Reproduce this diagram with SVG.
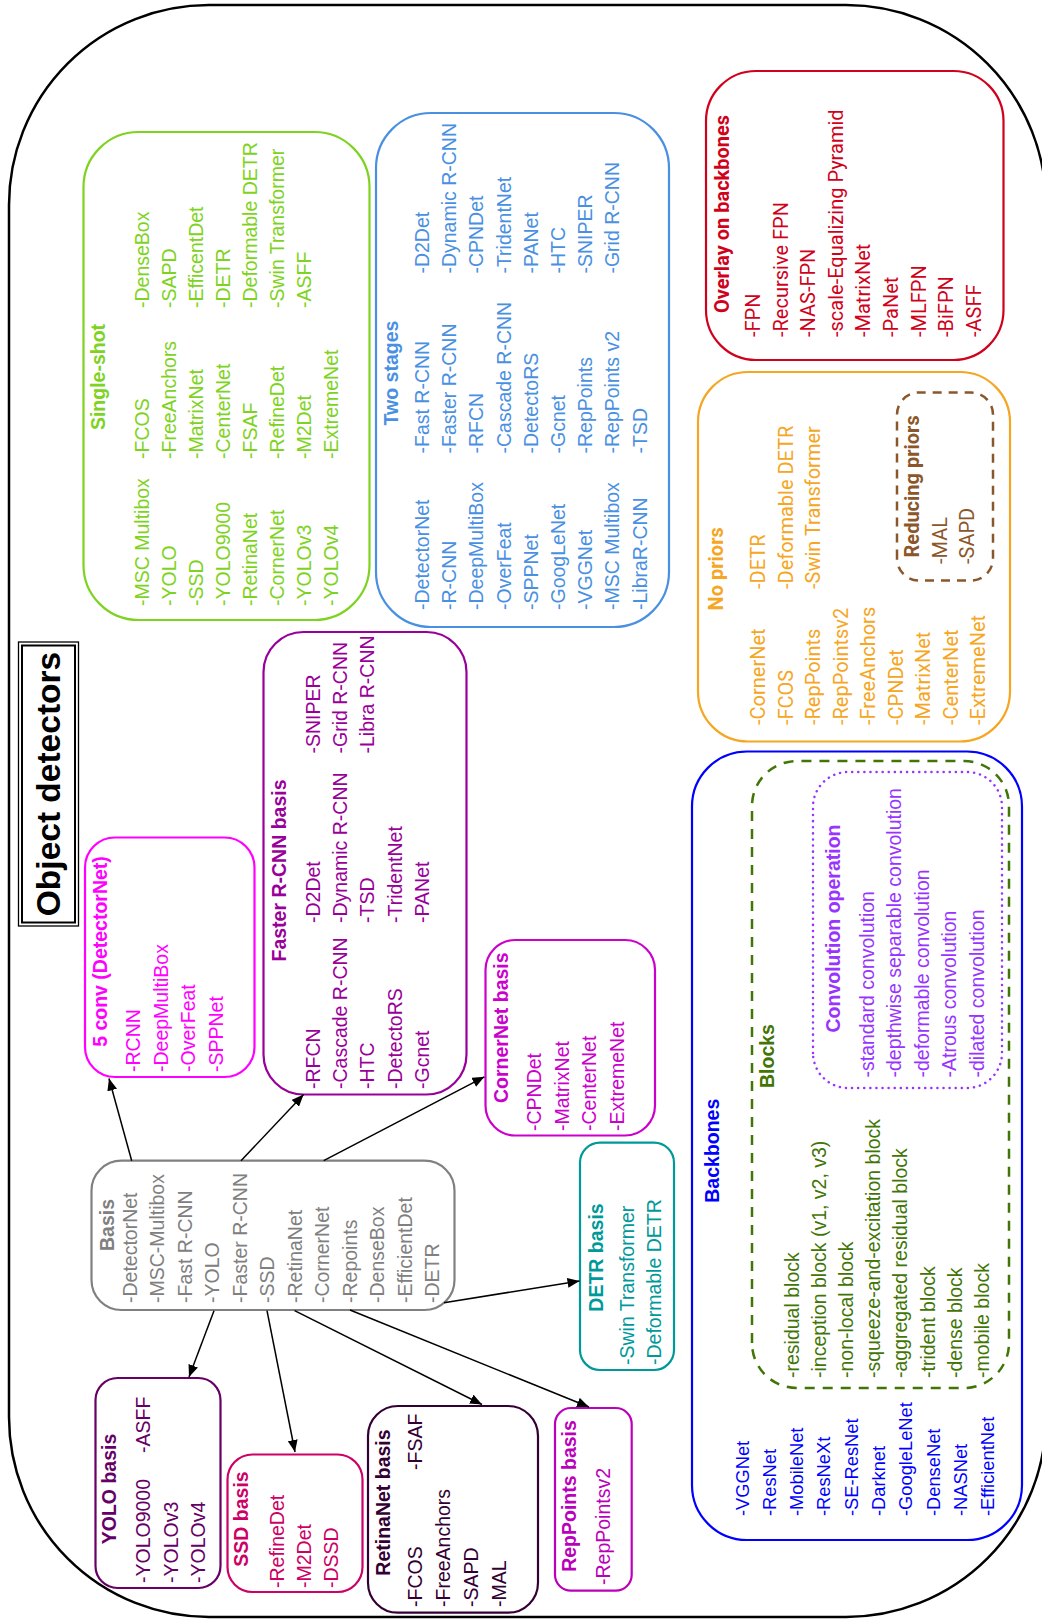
<svg xmlns="http://www.w3.org/2000/svg" width="1042" height="1619" viewBox="0 0 1042 1619">
<defs>
<style>
text{font-family:"Liberation Sans",Arial,sans-serif;font-size:19.5px}
.b{font-weight:bold}
.m{text-anchor:middle}
.rb{font-family:Roboto,"Liberation Sans",sans-serif;font-size:20px}
.bx{fill:#fff;stroke-width:2.2}
.green{fill:#7ED321}.blue{fill:#4A90E2}.red{fill:#D0021B}.orange{fill:#F5A623}.brown{fill:#8B572A}
.bb{fill:#0000FF}.dg{fill:#417505}.vi{fill:#9933FF}
.mag{fill:#FF00FF}.fr{fill:#990099}.cn{fill:#CC00CC}.te{fill:#009999}.gr{fill:#808080}
.yo{fill:#660066}.ss{fill:#CC0066}.rn{fill:#330033}.rp{fill:#BB00BB}
.con{stroke:#000;stroke-width:1.5;fill:none;marker-end:url(#ah)}
</style>
<marker id="ah" viewBox="0 0 12 10" refX="12" refY="5" markerWidth="12" markerHeight="10" markerUnits="userSpaceOnUse" orient="auto"><path d="M0,0 L12,5 L0,10 z" fill="#000"/></marker>
</defs>
<rect width="1042" height="1619" fill="#fff"/>
<rect id="outer" x="9" y="5" width="1037" height="1612" rx="200" fill="none" stroke="#000" stroke-width="2.5"/>

<g id="title" transform="translate(18.5,926) rotate(-90)">
<rect x="0" y="0" width="284" height="60" fill="#fff" stroke="#000" stroke-width="1.3"/>
<rect x="3.5" y="3.5" width="277" height="53" fill="none" stroke="#000" stroke-width="2"/>
<text class="b m" x="142" y="41.5" style="font-size:33.5px">Object detectors</text>
</g>

<g id="single-shot" transform="translate(83.5,620) rotate(-90)">
<rect class="bx" x="0" y="0" width="488" height="286" rx="55" stroke="#7ED321"/>
<g class="green">
<text class="b m" x="243" y="21.5">Single-shot</text>
<text x="14" y="65">-MSC Multibox</text><text x="14" y="92">-YOLO</text><text x="14" y="119">-SSD</text><text x="14" y="146">-YOLO9000</text><text x="14" y="173">-RetinaNet</text><text x="14" y="200">-CornerNet</text><text x="14" y="227">-YOLOv3</text><text x="14" y="254">-YOLOv4</text>
<text x="161" y="65">-FCOS</text><text x="161" y="92">-FreeAnchors</text><text x="161" y="119">-MatrixNet</text><text x="161" y="146">-CenterNet</text><text x="161" y="173">-FSAF</text><text x="161" y="200">-RefineDet</text><text x="161" y="227">-M2Det</text><text x="161" y="254">-ExtremeNet</text>
<text x="312" y="65">-DenseBox</text><text x="312" y="92">-SAPD</text><text x="312" y="119">-EfficentDet</text><text x="312" y="146">-DETR</text><text x="312" y="173">-Deformable DETR</text><text x="312" y="200">-Swin Transformer</text><text x="312" y="227">-ASFF</text>
</g>
</g>

<g id="two-stages" transform="translate(376,627) rotate(-90)">
<rect class="bx" x="0" y="0" width="514" height="293" rx="55" stroke="#4A90E2"/>
<g class="blue">
<text class="b m" x="254" y="21.7">Two stages</text>
<text x="17" y="53">-DetectorNet</text><text x="17" y="80.2">-R-CNN</text><text x="17" y="107.4">-DeepMultiBox</text><text x="17" y="134.6">-OverFeat</text><text x="17" y="161.8">-SPPNet</text><text x="17" y="189">-GoogLeNet</text><text x="17" y="216.2">-VGGNet</text><text x="17" y="243.4">-MSC Multibox</text><text x="17" y="270.6">-LibraR-CNN</text>
<text x="173.5" y="53">-Fast R-CNN</text><text x="173.5" y="80.2">-Faster R-CNN</text><text x="173.5" y="107.4">-RFCN</text><text x="173.5" y="134.6">-Cascade R-CNN</text><text x="173.5" y="161.8">-DetectoRS</text><text x="173.5" y="189">-Gcnet</text><text x="173.5" y="216.2">-RepPoints</text><text x="173.5" y="243.4">-RepPoints v2</text><text x="173.5" y="270.6">-TSD</text>
<text x="353.4" y="53">-D2Det</text><text x="353.4" y="80.2">-Dynamic R-CNN</text><text x="353.4" y="107.4">-CPNDet</text><text x="353.4" y="134.6">-TridentNet</text><text x="353.4" y="161.8">-PANet</text><text x="353.4" y="189">-HTC</text><text x="353.4" y="216.2">-SNIPER</text><text x="353.4" y="243.4">-Grid R-CNN</text>
</g>
</g>

<g id="overlay" transform="translate(706,360) rotate(-90)">
<rect class="bx" x="0" y="0" width="289" height="297.5" rx="50" stroke="#D0021B"/>
<g class="red rb">
<text class="b m rb" x="146" y="22.7">Overlay on backbones</text>
<text class="rb" x="23" y="54">-FPN</text><text class="rb" x="23" y="81.6">-Recursive FPN</text><text class="rb" x="23" y="109.2">-NAS-FPN</text><text class="rb" x="23" y="136.8">-scale-Equalizing Pyramid</text><text class="rb" x="23" y="164.4">-MatrixNet</text><text class="rb" x="23" y="192">-PaNet</text><text class="rb" x="23" y="219.6">-MLFPN</text><text class="rb" x="23" y="247.2">-BiFPN</text><text class="rb" x="23" y="274.8">-ASFF</text>
</g>
</g>

<g id="no-priors" transform="translate(698,741.5) rotate(-90)">
<rect class="bx" x="0" y="0" width="369.5" height="312" rx="50" stroke="#F5A623"/>
<g class="orange">
<text class="b m rb" x="172.7" y="25">No priors</text>
<text class="rb" x="16.5" y="67">-CornerNet</text><text class="rb" x="16.5" y="94.5">-FCOS</text><text class="rb" x="16.5" y="122">-RepPoints</text><text class="rb" x="16.5" y="149.5">-RepPointsv2</text><text class="rb" x="16.5" y="177">-FreeAnchors</text><text class="rb" x="16.5" y="204.5">-CPNDet</text><text class="rb" x="16.5" y="232">-MatrixNet</text><text class="rb" x="16.5" y="259.5">-CenterNet</text><text class="rb" x="16.5" y="287">-ExtremeNet</text>
<text class="rb" x="152.5" y="67">-DETR</text><text class="rb" x="152.5" y="94.5">-Deformable DETR</text><text class="rb" x="152.5" y="122">-Swin Transformer</text>
</g>
<g id="reducing-priors">
<rect x="161" y="199" width="188" height="96" rx="22" fill="none" stroke="#8B572A" stroke-width="2.5" stroke-dasharray="9 7"/>
<g class="brown">
<text class="b m rb" x="255.1" y="220.7">Reducing priors</text>
<text class="rb" x="177.5" y="249">-MAL</text><text class="rb" x="177.5" y="276">-SAPD</text>
</g>
</g>
</g>

<g id="backbones" transform="translate(692,1540) rotate(-90)">
<rect class="bx" x="0" y="0" width="788.5" height="330" rx="55" stroke="#0000FF"/>
<g class="bb">
<text class="b m" x="389.3" y="26.7">Backbones</text>
<g style="font-size:18.3px">
<text x="24" y="56.5" style="font-size:18.3px">-VGGNet</text><text x="24" y="83.8" style="font-size:18.3px">-ResNet</text><text x="24" y="111.1" style="font-size:18.3px">-MobileNet</text><text x="24" y="138.4" style="font-size:18.3px">-ResNeXt</text><text x="24" y="165.7" style="font-size:18.3px">-SE-ResNet</text><text x="24" y="193" style="font-size:18.3px">-Darknet</text><text x="24" y="220.3" style="font-size:18.3px">-GoogleLeNet</text><text x="24" y="247.6" style="font-size:18.3px">-DenseNet</text><text x="24" y="274.9" style="font-size:18.3px">-NASNet</text><text x="24" y="302.2" style="font-size:18.3px">-EfficientNet</text>
</g>
</g>
<g id="blocks">
<rect x="152" y="60" width="627" height="257" rx="45" fill="none" stroke="#417505" stroke-width="2.5" stroke-dasharray="10 8"/>
<g class="dg">
<text class="b m" x="484" y="82">Blocks</text>
<text x="162" y="106.5">-residual block</text><text x="162" y="133.7">-inception block (v1, v2, v3)</text><text x="162" y="160.9">-non-local block</text><text x="162" y="188.1">-squeeze-and-excitation block</text><text x="162" y="215.3">-aggregated residual block</text><text x="162" y="242.5">-trident block</text><text x="162" y="269.7">-dense block</text><text x="162" y="296.9">-mobile block</text>
</g>
</g>
<g id="convolution">
<rect x="452" y="121" width="316" height="189" rx="35" fill="none" stroke="#9933FF" stroke-width="2.5" stroke-dasharray="0.1 6" stroke-linecap="round"/>
<g class="vi">
<text class="b m" x="611.5" y="148">Convolution operation</text>
<text x="462.5" y="181.5">-standard convolution</text><text x="462.5" y="209">-depthwise separable convolution</text><text x="462.5" y="236.5">-deformable convolution</text><text x="462.5" y="264">-Atrous convolution</text><text x="462.5" y="291.5">-dilated convolution</text>
</g>
</g>
</g>

<g id="five-conv" transform="translate(85,1077) rotate(-90)">
<rect class="bx" x="0" y="0" width="239.5" height="169.5" rx="30" stroke="#FF00FF"/>
<g class="mag">
<text class="b m" x="125.5" y="22.4">5 conv (DetectorNet)</text>
<text x="5" y="55">-RCNN</text><text x="5" y="82.5">-DeepMultiBox</text><text x="5" y="110">-OverFeat</text><text x="5" y="137.5">-SPPNet</text>
</g>
</g>

<g id="faster-rcnn" transform="translate(263.5,1094.5) rotate(-90)">
<rect class="bx" x="0" y="0" width="462.5" height="203" rx="40" stroke="#990099"/>
<g class="fr">
<text class="b m" x="224" y="22.5">Faster R-CNN basis</text>
<text x="5.5" y="56">-RFCN</text><text x="5.5" y="83.4">-Cascade R-CNN</text><text x="5.5" y="110.8">-HTC</text><text x="5.5" y="138.2">-DetectoRS</text><text x="5.5" y="165.6">-Gcnet</text>
<text x="171.5" y="56">-D2Det</text><text x="171.5" y="83.4">-Dynamic R-CNN</text><text x="171.5" y="110.8">-TSD</text><text x="171.5" y="138.2">-TridentNet</text><text x="171.5" y="165.6">-PANet</text>
<text x="341" y="56">-SNIPER</text><text x="341" y="83.4">-Grid R-CNN</text><text x="341" y="110.8">-Libra R-CNN</text>
</g>
</g>

<g id="cornernet" transform="translate(485.5,1135.5) rotate(-90)">
<rect class="bx" x="0" y="0" width="195.5" height="169.5" rx="30" stroke="#CC00CC"/>
<g class="cn">
<text class="b m" x="107.8" y="22.5">CornerNet basis</text>
<text x="4.5" y="55.5">-CPNDet</text><text x="4.5" y="83.1">-MatrixNet</text><text x="4.5" y="110.7">-CenterNet</text><text x="4.5" y="138.3">-ExtremeNet</text>
</g>
</g>

<g id="detr" transform="translate(580,1370) rotate(-90)">
<rect class="bx" x="0" y="0" width="227.3" height="94" rx="20" stroke="#009999"/>
<g class="te">
<text class="b m" x="112.5" y="23">DETR basis</text>
<text x="5" y="54">-Swin Transformer</text><text x="5" y="81">-Deformable DETR</text>
</g>
</g>

<g id="basis" transform="translate(91.5,1310) rotate(-90)">
<rect class="bx" x="0" y="0" width="149.3" height="363" rx="30" stroke="#808080"/>
<g class="gr">
<text class="b m" x="85" y="22.5">Basis</text>
<text x="7" y="45">-DetectorNet</text><text x="7" y="72.5">-MSC-Multibox</text><text x="7" y="100">-Fast R-CNN</text><text x="7" y="127.5">-YOLO</text><text x="7" y="155">-Faster R-CNN</text><text x="7" y="182.5">-SSD</text><text x="7" y="210">-RetinaNet</text><text x="7" y="237.5">-CornerNet</text><text x="7" y="265">-Repoints</text><text x="7" y="292.5">-DenseBox</text><text x="7" y="320">-EfficientDet</text><text x="7" y="347.5">-DETR</text>
</g>
</g>

<g id="yolo" transform="translate(95.5,1588) rotate(-90)">
<rect class="bx" x="0" y="0" width="210" height="125" rx="22" stroke="#660066"/>
<g class="yo">
<text class="b m" x="99" y="20.5">YOLO basis</text>
<text x="5" y="54.5">-YOLO9000</text><text x="5" y="82">-YOLOv3</text><text x="5" y="109.5">-YOLOv4</text>
<text x="135" y="54.5">-ASFF</text>
</g>
</g>

<g id="ssd" transform="translate(227.5,1592) rotate(-90)">
<rect class="bx" x="0" y="0" width="137.5" height="135" rx="25" stroke="#CC0066"/>
<g class="ss">
<text class="b m" x="73" y="20.5">SSD basis</text>
<text x="4" y="56.3">-RefineDet</text><text x="4" y="83.1">-M2Det</text><text x="4" y="110.5">-DSSD</text>
</g>
</g>

<g id="retinanet" transform="translate(368,1612.7) rotate(-90)">
<rect class="bx" x="0" y="0" width="206.7" height="170" rx="30" stroke="#330033"/>
<g class="rn">
<text class="b m" x="110.2" y="22">RetinaNet basis</text>
<text x="5.7" y="54">-FCOS</text><text x="5.7" y="82">-FreeAnchors</text><text x="5.7" y="110">-SAPD</text><text x="5.7" y="138">-MAL</text>
<text x="142.7" y="54">-FSAF</text>
</g>
</g>

<g id="reppoints" transform="translate(555,1590.7) rotate(-90)">
<rect class="bx" x="0" y="0" width="182.7" height="76.7" rx="16" stroke="#BB00BB"/>
<g class="rp">
<text class="b m" x="94.7" y="21">RepPoints basis</text>
<text x="5.7" y="54.7">-RepPointsv2</text>
</g>
</g>

<g id="connectors">
<line class="con" x1="131.7" y1="1160.7" x2="109" y2="1078.5"/>
<line class="con" x1="241" y1="1160.7" x2="303.6" y2="1094.6"/>
<line class="con" x1="323.7" y1="1160.7" x2="484.4" y2="1076.8"/>
<line class="con" x1="444" y1="1302.7" x2="579.5" y2="1281"/>
<line class="con" x1="214" y1="1310.7" x2="189" y2="1377"/>
<line class="con" x1="267" y1="1310.7" x2="295" y2="1452"/>
<line class="con" x1="294.6" y1="1310.7" x2="482" y2="1404.5"/>
<line class="con" x1="350" y1="1310" x2="589" y2="1407"/>
</g>
</svg>
